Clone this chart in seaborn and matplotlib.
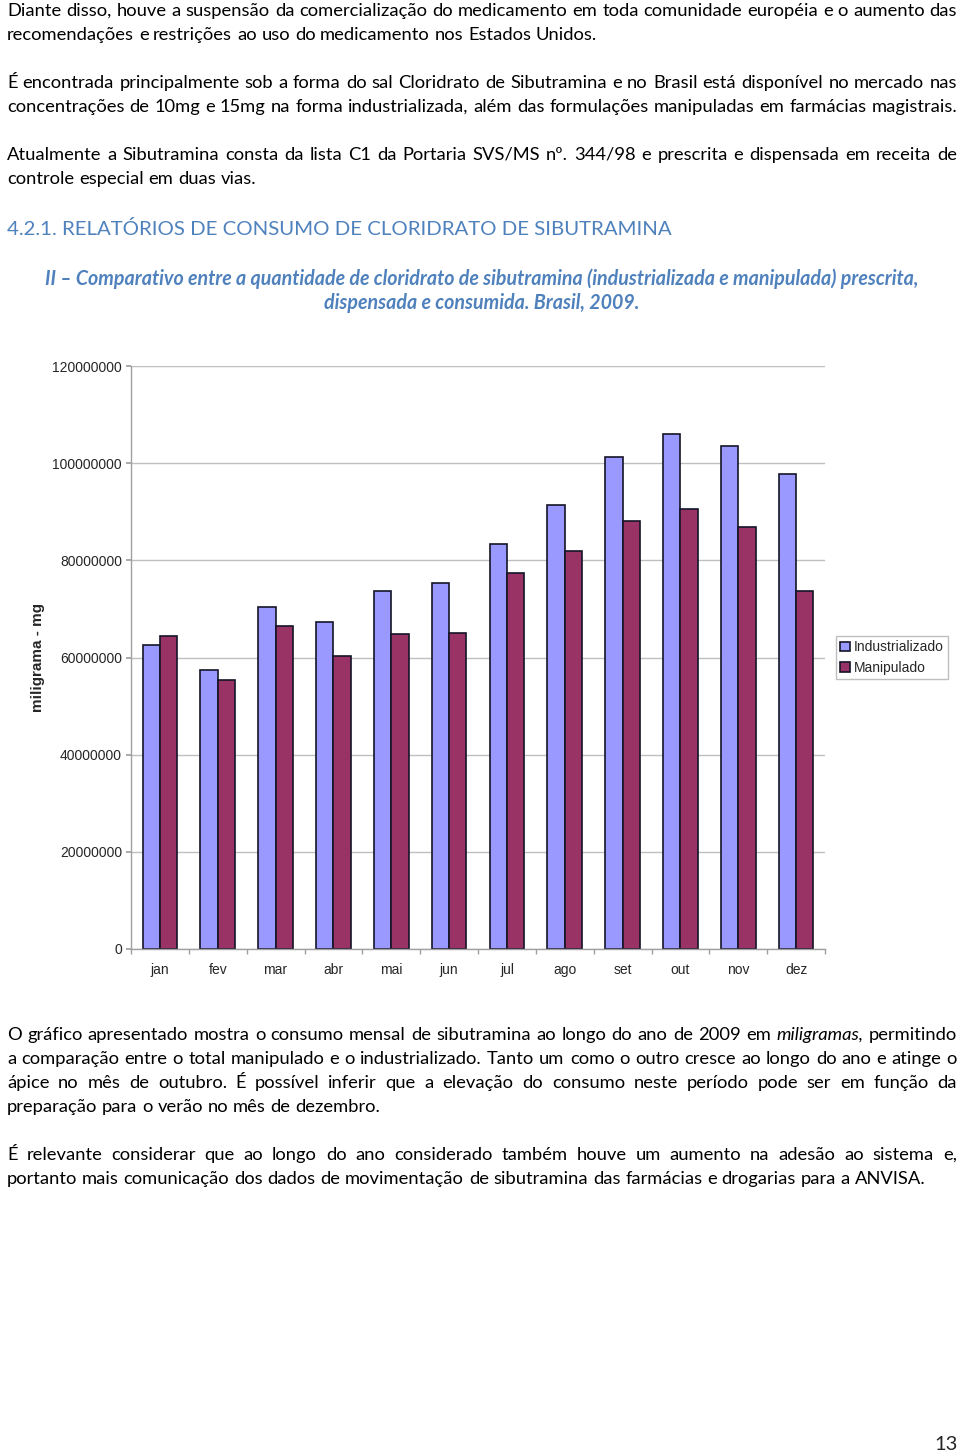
import matplotlib
matplotlib.use("Agg")
import matplotlib.pyplot as plt
import numpy as np
import pandas as pd
import seaborn as sns
from matplotlib.ticker import FuncFormatter, FixedLocator

# dados do grafico (mg)
meses = ['jan', 'fev', 'mar', 'abr', 'mai', 'jun', 'jul', 'ago', 'set', 'out', 'nov', 'dez']
industrializado = [62.6e6, 57.5e6, 70.3e6, 67.3e6, 73.7e6, 75.4e6, 83.4e6, 91.4e6, 101.3e6, 106.1e6, 103.6e6, 97.7e6]
manipulado = [64.5e6, 55.3e6, 66.5e6, 60.3e6, 64.8e6, 65.1e6, 77.3e6, 82.0e6, 88.0e6, 90.6e6, 86.9e6, 73.7e6]
series = ['Industrializado', 'Manipulado']
cores = ['#9999FF', '#993366']
yticks = [0, 20000000, 40000000, 60000000, 80000000, 100000000, 120000000]

# texto da pagina
par1 = ["Diante disso, houve a suspensão da comercialização do medicamento em toda comunidade européia e o aumento das",
        "recomendações e restrições ao uso do medicamento nos Estados Unidos."]
par2 = ["É encontrada principalmente sob a forma do sal Cloridrato de Sibutramina e no Brasil está disponível no mercado nas",
        "concentrações de 10mg e 15mg na forma industrializada, além das formulações manipuladas em farmácias magistrais."]
par3 = ["Atualmente a Sibutramina consta da lista C1 da Portaria SVS/MS nº. 344/98 e prescrita e dispensada em receita de",
        "controle especial em duas vias."]
titulo = "4.2.1. RELATÓRIOS DE CONSUMO DE CLORIDRATO DE SIBUTRAMINA"
legenda = ["II – Comparativo entre a quantidade de cloridrato de sibutramina (industrializada e manipulada) prescrita,",
           "dispensada e consumida. Brasil, 2009."]
par4 = ["O gráfico apresentado mostra o consumo mensal de sibutramina ao longo do ano de 2009 em *miligramas*, permitindo",
        "a comparação entre o total manipulado e o industrializado. Tanto um como o outro cresce ao longo do ano e atinge o",
        "ápice no mês de outubro. É possível inferir que a elevação do consumo neste período pode ser em função da",
        "preparação para o verão no mês de dezembro."]
par5 = ["É relevante considerar que ao longo do ano considerado também houve um aumento na adesão ao sistema e,",
        "portanto mais comunicação dos dados de movimentação de sibutramina das farmácias e drogarias para a ANVISA."]

W, H = 960, 1453
sns.set_theme(style="white")
plt.rcParams['font.family'] = ['Liberation Sans', 'DejaVu Sans']

fig = plt.figure(figsize=(W / 100, H / 100), dpi=100)
renderer = fig.canvas.get_renderer()
BODY = ['Lato', 'DejaVu Sans']


def fx(x):
    return x / W


def fy(y):
    return 1 - y / H


def largura(txt, size, family=BODY, style='normal', weight='normal'):
    t = fig.text(0, 0, txt, fontsize=size, family=family, style=style, weight=weight)
    w = t.get_window_extent(renderer).width
    t.remove()
    return w


def linha(y, txt, size, justify=False, x0=7, x1=957, color='black'):
    words = txt.split(' ')
    items = []
    for w in words:
        st = 'normal'
        if '*' in w:
            st = 'italic'
            w = w.replace('*', '')
        items.append((w, st, largura(w, size, style=st)))
    sp = largura('a b', size) - largura('ab', size)
    total = sum(i[2] for i in items)
    if justify and len(items) > 1:
        sp = (x1 - x0 - total) / (len(items) - 1)
    x = x0
    for w, st, wd in items:
        fig.text(fx(x), fy(y), w, fontsize=size, family=BODY, style=st,
                 color=color, va='center', ha='left')
        x += wd + sp


# tamanho da fonte ajustado pela ultima linha
fs = 10 * 915 / largura(par5[1], 10)

for par, ys in [(par1, [11, 35]), (par2, [83, 107]), (par3, [155, 179]),
                (par4, [1035, 1059, 1083, 1107]), (par5, [1155, 1179])]:
    for i, (txt, y) in enumerate(zip(par, ys)):
        just = i < len(par) - 1 or (par is par2)
        linha(y, txt, fs, justify=just)

azul = '#4F81BD'
fs_t = 10 * 659 / largura(titulo, 10)
fig.text(fx(7), fy(229), titulo, fontsize=fs_t, family=BODY, color=azul, va='center', ha='left')

fs_c = 10 * 872 / largura(legenda[0], 10, style='italic', weight='bold')
for txt, y in zip(legenda, [279, 303]):
    fig.text(fx(482), fy(y), txt, fontsize=fs_c, family=BODY, style='italic', weight='bold',
             color=azul, va='center', ha='center')

fig.text(fx(958), fy(1445), "13", fontsize=fs * 1.1, family=BODY, va='center', ha='right')

# grafico
ax = fig.add_axes([fx(131), fy(949), (825 - 131) / W, (949 - 366) / H])
df = pd.DataFrame({
    'mes': meses * 2,
    'valor': industrializado + manipulado,
    'serie': [series[0]] * 12 + [series[1]] * 12,
})
sns.barplot(data=df, x='mes', y='valor', hue='serie', palette=cores, width=0.6,
            edgecolor='#141428', linewidth=1.2, saturation=1, ax=ax)

ax.set_xlim(-0.5, 11.5)
ax.set_ylim(0, 120000000)
ax.yaxis.set_major_locator(FixedLocator(yticks))
ax.yaxis.set_major_formatter(FuncFormatter(lambda v, p: f"{int(v)}"))
ax.grid(axis='y', color='#BFBFBF', linewidth=1)
ax.set_axisbelow(True)
for s in ['top', 'right']:
    ax.spines[s].set_visible(False)
for s in ['left', 'bottom']:
    ax.spines[s].set_color('#A0A0A0')
    ax.spines[s].set_linewidth(1)
ax.tick_params(axis='y', length=3.6, color='#A0A0A0', labelsize=10, pad=2.9, left=True)
ax.tick_params(axis='x', which='major', length=0, labelsize=10, pad=10)
ax.set_xticks(np.arange(-0.5, 12, 1), minor=True)
ax.tick_params(axis='x', which='minor', length=3.6, color='#A0A0A0', bottom=True)
ax.set_xlabel('')
ax.set_ylabel('miligrama - mg', fontsize=11, fontweight='bold')
ax.yaxis.set_label_coords((45 - 131) / 694, 0.5)

ax.legend(loc='center left', bbox_to_anchor=(1.016, 0.5), fontsize=10, frameon=True,
          fancybox=False, edgecolor='#BFBFBF', framealpha=1, handlelength=0.7,
          handleheight=0.7, handletextpad=0.3, borderpad=0.3, labelspacing=0.45,
          borderaxespad=0)

fig.savefig('out.png', dpi=100)
